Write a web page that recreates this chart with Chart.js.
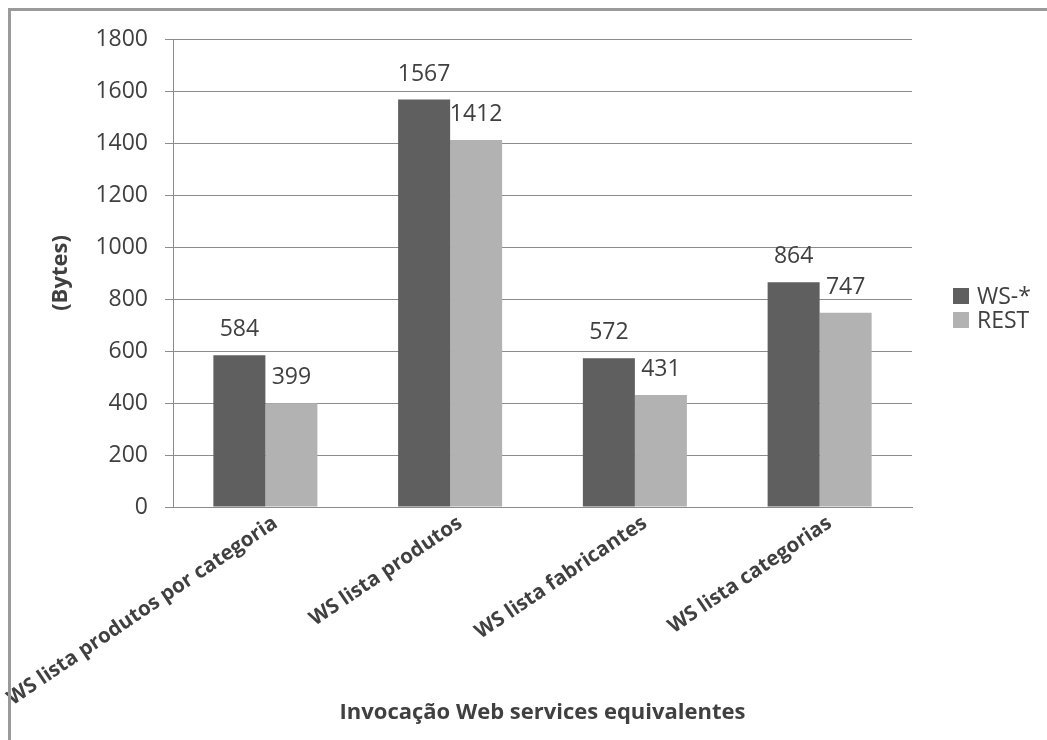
<!DOCTYPE html>
<html><head><meta charset="utf-8">
<script src="https://cdn.jsdelivr.net/npm/chart.js@4/dist/chart.umd.min.js"></script>
<style>
html,body{margin:0;padding:0;background:#fff;}
#wrap{position:relative;width:1047px;height:740px;overflow:hidden;}
#frame{position:absolute;left:8px;top:8px;width:1100px;height:800px;border-left:3px solid #9a9a9a;border-top:3px solid #9a9a9a;pointer-events:none;}
canvas{position:absolute;left:0;top:0;}
</style></head><body>
<div id="wrap"><canvas id="c" width="1047" height="740"></canvas><div id="frame"></div></div>
<script>
const categories = ['WS lista produtos por categoria', 'WS lista produtos', 'WS lista fabricantes', 'WS lista categorias'];
const seriesNames = ['WS-*', 'REST'];
const wsValues = [584, 1567, 572, 864];
const restValues = [399, 1412, 431, 747];
const yMin = 0, yMax = 1800, yStep = 200;
const xTitle = 'Invocação Web services equivalentes';
const yTitle = '(Bytes)';

const colors = ['#5f5f5f', '#b2b2b2'];
const textColor = '#404040';
const gridColor = '#8c8c8c';

const valueLabels = {
  id: 'valueLabels',
  afterDatasetsDraw(chart) {
    const ctx = chart.ctx;
    ctx.save();
    ctx.font = '23px "Open Sans"';
    ctx.fillStyle = textColor;
    ctx.textAlign = 'center';
    ctx.textBaseline = 'alphabetic';
    chart.data.datasets.forEach((ds, i) => {
      chart.getDatasetMeta(i).data.forEach((bar, j) => {
        ctx.fillText(String(ds.data[j]), bar.x, bar.y - 19);
      });
    });
    ctx.restore();
  }
};

const sideLegend = {
  id: 'sideLegend',
  afterDraw(chart) {
    const ctx = chart.ctx;
    ctx.save();
    ctx.font = '23px "Open Sans"';
    ctx.textBaseline = 'middle';
    ctx.textAlign = 'left';
    const x0 = chart.chartArea.right + 41;
    const y0 = 296;
    chart.data.datasets.forEach((ds, i) => {
      const y = y0 + i * 24;
      ctx.fillStyle = ds.backgroundColor;
      ctx.fillRect(x0, y - 8, 16, 16);
      ctx.fillStyle = textColor;
      ctx.fillText(ds.label, x0 + 24, y + 1);
    });
    ctx.restore();
  }
};

new Chart(document.getElementById('c'), {
  type: 'bar',
  data: {
    labels: categories,
    datasets: [
      { label: seriesNames[0], data: wsValues, backgroundColor: colors[0], borderWidth: 0 },
      { label: seriesNames[1], data: restValues, backgroundColor: colors[1], borderWidth: 0 }
    ]
  },
  options: {
    responsive: false,
    devicePixelRatio: 1,
    animation: false,
    layout: { autoPadding: false, padding: { top: 39, right: 135, left: 0, bottom: 0 } },
    datasets: { bar: { categoryPercentage: 0.563, barPercentage: 1.0 } },
    plugins: { legend: { display: false }, tooltip: { enabled: false } },
    scales: {
      x: {
        grid: { display: false, drawTicks: false },
        border: { display: true, color: gridColor, width: 1 },
        ticks: {
          color: textColor,
          font: { family: 'Open Sans', size: 20.5, weight: 'bold' },
          minRotation: 34, maxRotation: 34,
          autoSkip: false,
          padding: 4,
          labelOffset: 10
        },
        title: {
          display: true, text: xTitle, color: textColor,
          font: { family: 'Open Sans', size: 22, weight: 'bold' },
          padding: { top: 0, bottom: 14 }
        },
        afterFit(scale) {
          scale.height = 233;
          scale.paddingLeft = 0; scale.paddingRight = 0;
        }
      },
      y: {
        min: yMin, max: yMax,
        ticks: {
          stepSize: yStep, color: textColor, padding: 17,
          font: { family: 'Open Sans', size: 23 },
          callback: (v) => String(v)
        },
        grid: { color: gridColor, lineWidth: 1, tickLength: 8, drawTicks: true },
        border: { display: true, color: gridColor, width: 1 },
        title: {
          display: true, text: yTitle, color: textColor,
          font: { family: 'Open Sans', size: 22, weight: 'bold' },
          padding: { top: 48, bottom: 0 }
        },
        afterFit(scale) {
          scale.width = 173;
          scale.paddingTop = 0; scale.paddingBottom = 0;
        }
      }
    }
  },
  plugins: [valueLabels, sideLegend]
});
</script>
</body></html>
